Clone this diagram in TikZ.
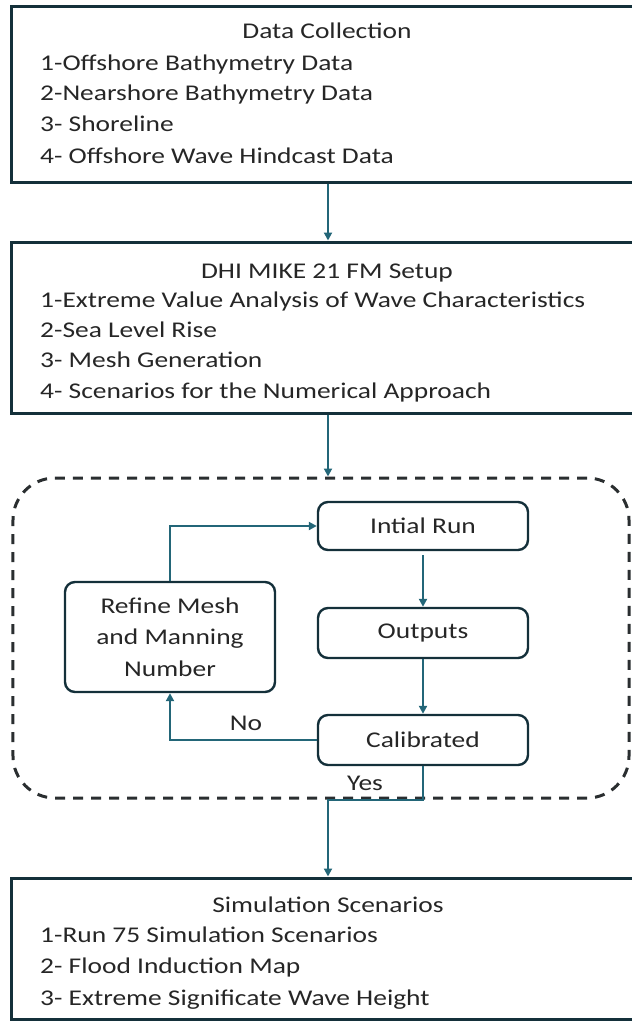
\documentclass[tikz,border=0pt]{standalone}
\usepackage{fontspec}
\setmainfont{Carlito}[FakeStretch=1.22]
\usetikzlibrary{arrows.meta}
\definecolor{boxline}{HTML}{14303A}
\definecolor{arrowcol}{HTML}{236678}
\definecolor{dashcol}{HTML}{2A2E30}
\begin{document}
\begin{tikzpicture}[x=1bp,y=-1bp,
  txt/.style={inner sep=0pt,font=\fontsize{22.5bp}{31.5bp}\selectfont,text=black!85},
  mainbox/.style={draw=boxline,line width=3bp,minimum width=632bp,inner sep=0pt},
  stepbox/.style={draw=boxline,line width=2.4bp,rounded corners=10bp,minimum width=210bp,inner sep=0pt,font=\fontsize{22.5bp}{31.5bp}\selectfont,text=black!85,align=center},
  arr/.style={draw=arrowcol,line width=2bp,-{Triangle[length=8bp,width=8bp]}},
  ln/.style={draw=arrowcol,line width=2bp}]
\useasboundingbox (0,0) rectangle (632,1021);
\clip (0,0) rectangle (632,1021);
% main boxes
\node[mainbox,minimum height=176bp] (box1) at (328,94) {};
\node[mainbox,minimum height=171bp] (box2) at (328,327.5) {};
\node[mainbox,minimum height=141bp] (box3) at (328,948.5) {};
% dashed group
\node[draw=dashcol,line width=3bp,dash pattern=on 10bp off 8bp,rounded corners=42bp,
      minimum width=616bp,minimum height=320bp,inner sep=0pt] (grp) at (321,638) {};
% box1 texts
\node[txt,anchor=base] (t1) at (327,38) {Data Collection};
\node[txt,anchor=base west] (t1a) at (40,70) {1-Offshore Bathymetry Data};
\node[txt,anchor=base west] (t1b) at (40,100) {2-Nearshore Bathymetry Data};
\node[txt,anchor=base west] (t1c) at (40,131) {3- Shoreline};
\node[txt,anchor=base west] (t1d) at (40,163) {4- Offshore Wave Hindcast Data};
% box2 texts
\node[txt,anchor=base] (t2) at (327,278) {DHI MIKE 21 FM Setup};
\node[txt,anchor=base west] (t2a) at (40,307) {1-Extreme Value Analysis of Wave Characteristics};
\node[txt,anchor=base west] (t2b) at (40,337) {2-Sea Level Rise};
\node[txt,anchor=base west] (t2c) at (40,367) {3- Mesh Generation};
\node[txt,anchor=base west] (t2d) at (40,398) {4- Scenarios for the Numerical Approach};
% box3 texts
\node[txt,anchor=base] (t3) at (328,912) {Simulation Scenarios};
\node[txt,anchor=base west] (t3a) at (40,942) {1-Run 75 Simulation Scenarios};
\node[txt,anchor=base west] (t3b) at (40,973) {2- Flood Induction Map};
\node[txt,anchor=base west] (t3c) at (40,1005) {3- Extreme Significate Wave Height};
% inner boxes
\node[stepbox,minimum height=48bp] (run) at (423,526) {Intial Run};
\node[stepbox,minimum height=50bp] (out) at (423,633) {Outputs};
\node[stepbox,minimum height=50bp] (cal) at (423,740) {Calibrated};
\node[stepbox,minimum height=110bp] (ref) at (170,637) {Refine Mesh\\and Manning\\Number};
% labels
\node[txt,anchor=base] (no) at (246,730) {No};
\node[txt,anchor=base] (yes) at (365,790) {Yes};
% connectors
\draw[arr] (box1.south) -- (box2.north);
\draw[arr] (box2.south) -- (box2.south |- grp.north);
\draw[arr,shorten <=4bp] (run.south) -- (out.north);
\draw[arr] (out.south) -- (cal.north);
\draw[arr] (ref.north) |- (run.west);
\draw[arr] (cal.west) -| (ref.south);
\coordinate (ybend) at (cal.south |- grp.south);
\draw[arr] (cal.south) -- (ybend) -- (ybend -| box3.north) -- (box3.north);
\end{tikzpicture}
\end{document}
